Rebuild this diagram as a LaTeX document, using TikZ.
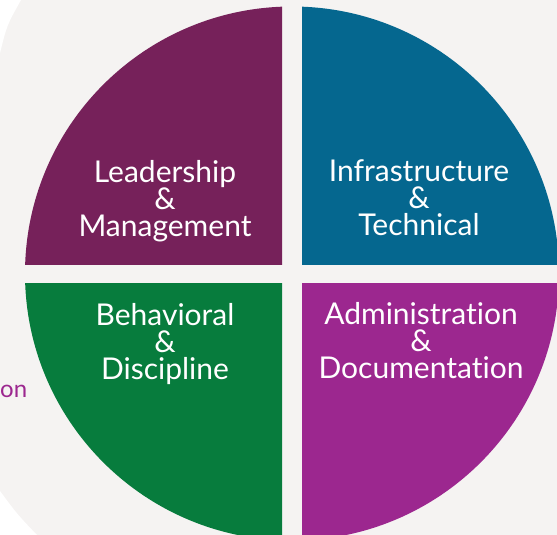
\documentclass[tikz,border=0pt]{standalone}
\usepackage{fontspec}
\setmainfont{Lato}[Ligatures=NoCommon]
\usepackage{tikz}
\usetikzlibrary{positioning}
\definecolor{paperGray}{HTML}{F5F3F2}
\definecolor{leadPlum}{HTML}{76215A}
\definecolor{techBlue}{HTML}{05678F}
\definecolor{behavGreen}{HTML}{077C3D}
\definecolor{adminMagenta}{HTML}{9C278F}

\begin{document}
\begin{tikzpicture}[x=1pt,y=-1pt,
    quarter/.style={align=center,text=white,inner sep=0pt,font=\fontsize{30}{27}\selectfont}]
          \def\cx{292}
          \def\cy{273.5}
          \def\rad{267}

          \useasboundingbox (0,0) rectangle (557,535);
          \fill[paperGray] (0,0) rectangle (557,535);
          \fill[white] (0,0) -- (21,0) .. controls (7,25) .. (0,53) -- cycle;
          \fill[white] (0,491) .. controls (17,514) .. (37,535) -- (0,535) -- cycle;

          \foreach \clr/\xa/\ya/\xb/\yb in {leadPlum/0/0/282/264, techBlue/302/0/557/264,
                                           behavGreen/0/283/282/535, adminMagenta/302/283/557/535} {
            \begin{scope}
              \clip (\xa,\ya) rectangle (\xb,\yb);
              \fill[\clr] (\cx,\cy) circle (\rad pt);
            \end{scope}
          }

          \node[quarter] (lead) at (165,201) {Leadership\\\&\\Management};
          \node[quarter] (infra) at (419,198) {Infrastructure\\\&\\Technical};
          \node[quarter] (behav) at (165,344) {Behavioral\\\&\\Discipline};
          \node[quarter] (admin) at (421,341) {Administration\\\&\\Documentation};
          \node[anchor=base west,inner sep=0pt,text=adminMagenta,font=\fontsize{24}{24}\selectfont] (tail) at (0,397) {on};
        \end{tikzpicture}
\end{document}
